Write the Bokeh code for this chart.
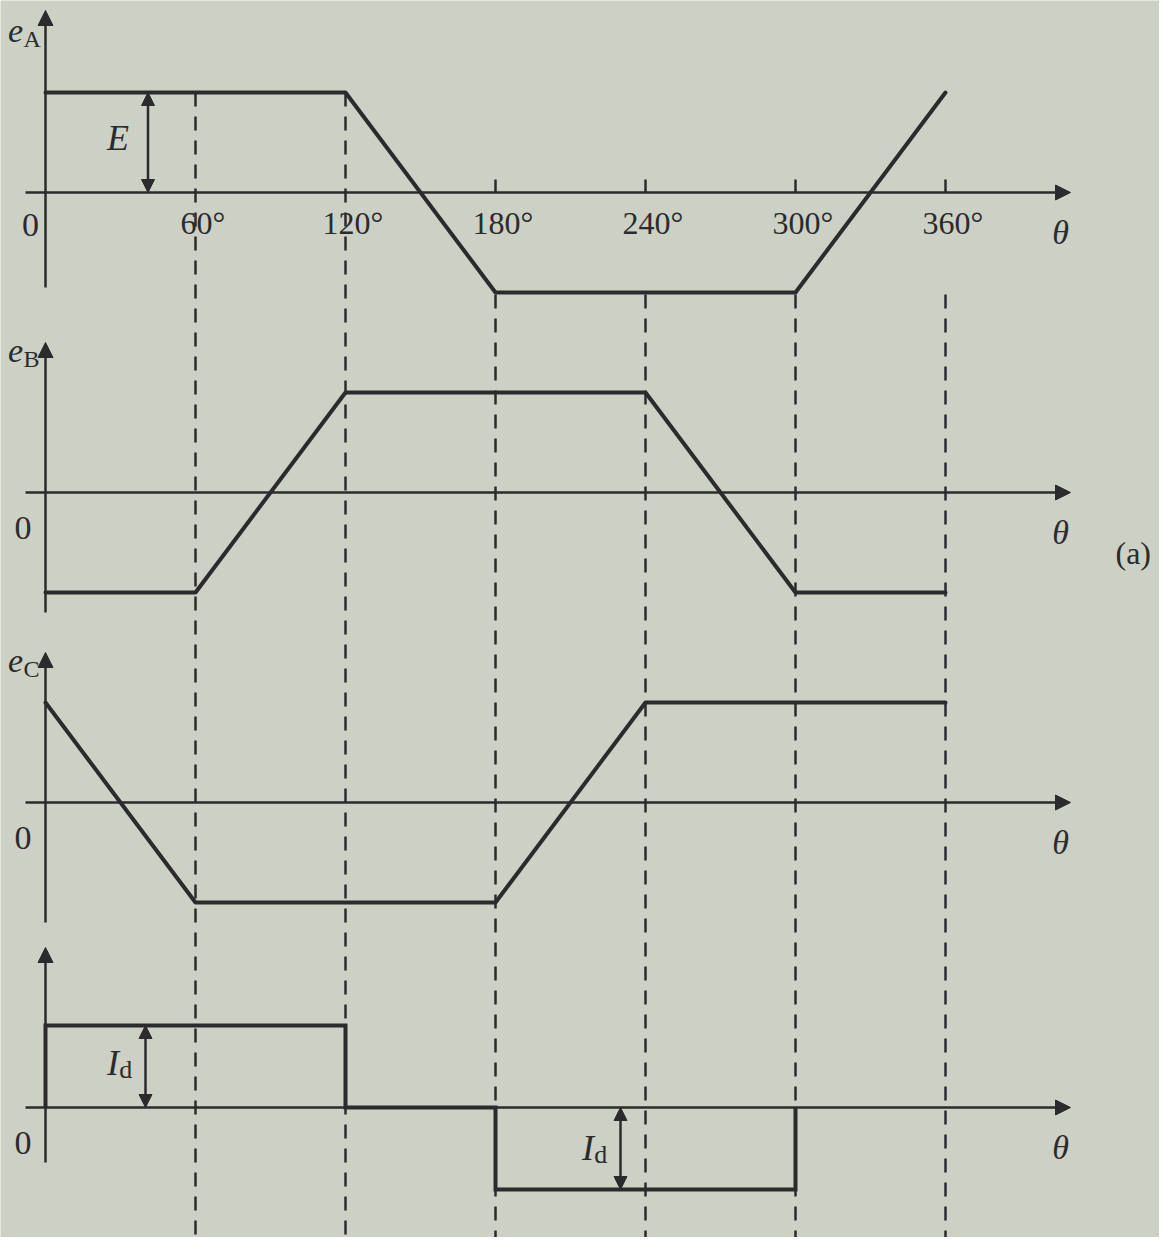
import numpy as np
from bokeh.plotting import figure
from bokeh.models import Arrow, NormalHead, Range1d
from bokeh.core.properties import value
from bokeh.embed import file_html
from bokeh.resources import INLINE

# ---------------- data ----------------
tick_angles = [60, 120, 180, 240, 300, 360]
tick_labels = ["60°", "120°", "180°", "240°", "300°", "360°"]

# phase EMFs (per unit of E), breakpoints in electrical degrees
theta_a = [0, 120, 180, 300, 360]
e_a = [1, 1, -1, -1, 1]
theta_b = [0, 60, 120, 240, 300, 360]
e_b = [-1, -1, 1, 1, -1, -1]
theta_c = [0, 60, 180, 240, 360]
e_c = [1, -1, -1, 1, 1]
# phase-A current (units of Id)
theta_i = [0, 0, 120, 120, 180, 180, 300, 300]
i_a = [0, 1, 1, 0, 0, -1, -1, 0]

# ---------------- layout / style ----------------
ink = "#2b2b2e"
bg = "#cdd0c4"
serif = value("Liberation Serif")
offsets = [10.45, 7.45, 4.35, 1.30]     # baseline of each panel (vertical layout)
amp_e = 1.0                              # drawn height of E
amp_i = 0.82                             # drawn height of Id
axis_span = [(-0.95, 1.82), (-1.2, 1.5), (-1.2, 1.5), (-0.55, 1.6)]

p = figure(width=1159, height=1237, output_backend="svg", toolbar_location=None,
           x_range=Range1d(-18, 445.6), y_range=Range1d(0, 12.37),
           min_border=0, background_fill_color=bg, border_fill_color=bg,
           outline_line_color=None)
p.axis.visible = False
p.xgrid.visible = False
p.ygrid.visible = False

A, B, C, D = offsets

# dashed guide lines through all panels
dash_top = [A + amp_e if t <= 120 else A - 1.02 * amp_e for t in tick_angles]
p.segment(x0=tick_angles, y0=dash_top, x1=tick_angles, y1=[0] * len(tick_angles),
          line_color=ink, line_width=2.5, line_dash="14 10")

# small ticks on panel A axis
p.segment(x0=tick_angles[2:], y0=[A] * 4, x1=tick_angles[2:], y1=[A + 0.13] * 4,
          line_color=ink, line_width=2.5)

# axes with arrows
def head():
    return NormalHead(size=15, fill_color=ink, line_color=ink, line_width=1)

for off, (lo, hi) in zip(offsets, axis_span):
    p.add_layout(Arrow(end=head(), x_start=-8, y_start=off, x_end=410, y_end=off,
                       line_color=ink, line_width=2.5))
    p.add_layout(Arrow(end=head(), x_start=0, y_start=off + lo, x_end=0, y_end=off + hi,
                       line_color=ink, line_width=2.5))

# waveforms
for th, ev, off in [(theta_a, e_a, A), (theta_b, e_b, B), (theta_c, e_c, C)]:
    p.line(th, np.array(ev) * amp_e + off, line_color=ink, line_width=4,
           line_join="round", line_cap="round")
p.line(theta_i, np.array(i_a) * amp_i + D, line_color=ink, line_width=4,
       line_join="miter")

# E and Id dimension arrows
def dhead():
    return NormalHead(size=13, fill_color=ink, line_color=ink, line_width=1)

p.add_layout(Arrow(start=dhead(), end=dhead(), x_start=41, y_start=A, x_end=41,
                   y_end=A + amp_e, line_color=ink, line_width=2.5))
p.add_layout(Arrow(start=dhead(), end=dhead(), x_start=40, y_start=D, x_end=40,
                   y_end=D + amp_i, line_color=ink, line_width=2.5))
p.add_layout(Arrow(start=dhead(), end=dhead(), x_start=230, y_start=D, x_end=230,
                   y_end=D - amp_i, line_color=ink, line_width=2.5))

# ---------------- texts ----------------
p.text(x=[t + 3 for t in tick_angles], y=[A - 0.12] * 6, text=tick_labels,
       text_font=serif, text_font_size="32px", text_align="center",
       text_baseline="top", text_color=ink)

# origin zeros
p.text(x=[-6, -9, -9, -9], y=[A - 0.32, B - 0.35, C - 0.35, D - 0.35],
       text=["0", "0", "0", "0"], text_font=serif, text_font_size="34px",
       text_align="center", text_baseline="middle", text_color=ink)

# theta labels
p.text(x=[406] * 4, y=[o - 0.4 for o in offsets], text=["θ"] * 4,
       text_font=serif, text_font_size="34px", text_font_style="italic",
       text_align="center", text_baseline="middle", text_color=ink)
p.text(x=[428], y=[B - 0.6], text=["(a)"], text_font=serif, text_font_size="32px",
       text_align="left", text_baseline="middle", text_color=ink)

# y-axis names
p.text(x=[-12, -12, -12], y=[A + 1.62, B + 1.42, C + 1.42], text=["e", "e", "e"],
       text_font=serif, text_font_size="34px", text_font_style="italic",
       text_align="center", text_baseline="middle", text_color=ink)
p.text(x=[-8.8, -8.8, -8.8], y=[A + 1.54, B + 1.34, C + 1.34], text=["A", "B", "C"],
       text_font=serif, text_font_size="24px", text_align="left",
       text_baseline="middle", text_color=ink)

# E label
p.text(x=[29], y=[A + 0.55], text=["E"], text_font=serif, text_font_size="36px",
       text_font_style="italic", text_align="center", text_baseline="middle",
       text_color=ink)
# Id labels
p.text(x=[27, 217], y=[D + 0.45, D - 0.4], text=["I", "I"], text_font=serif,
       text_font_size="36px", text_font_style="italic", text_align="center",
       text_baseline="middle", text_color=ink)
p.text(x=[29.5, 219.5], y=[D + 0.38, D - 0.47], text=["d", "d"], text_font=serif,
       text_font_size="26px", text_align="left", text_baseline="middle",
       text_color=ink)

open("out.html", "w").write(file_html(p, INLINE))
